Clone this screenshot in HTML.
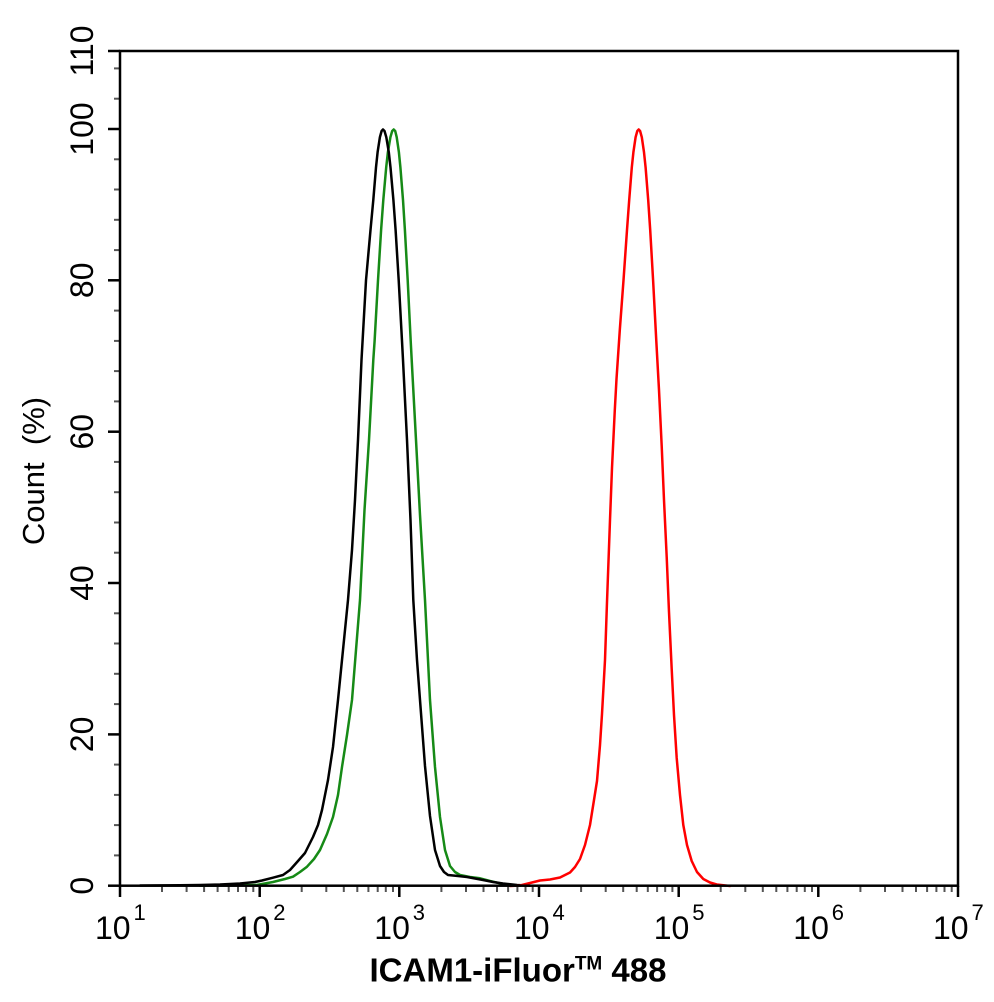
<!DOCTYPE html>
<html>
<head>
<meta charset="utf-8">
<style>
  html,body{margin:0;padding:0;background:#fff;}
  svg{display:block;}
  text{font-family:"Liberation Sans", Arial, sans-serif;fill:#000;}
</style>
</head>
<body>
<svg width="994" height="1002" viewBox="0 0 994 1002" xmlns="http://www.w3.org/2000/svg">
  <rect x="0" y="0" width="994" height="1002" fill="#fff"/>

  <!-- Y minor ticks (every 4 units) -->
  <g stroke="#555" stroke-width="2">
    <line x1="114" y1="855.4" x2="120" y2="855.4"/>
    <line x1="114" y1="825.1" x2="120" y2="825.1"/>
    <line x1="114" y1="794.9" x2="120" y2="794.9"/>
    <line x1="114" y1="764.6" x2="120" y2="764.6"/>
    <line x1="114" y1="704.1" x2="120" y2="704.1"/>
    <line x1="114" y1="673.8" x2="120" y2="673.8"/>
    <line x1="114" y1="643.5" x2="120" y2="643.5"/>
    <line x1="114" y1="613.3" x2="120" y2="613.3"/>
    <line x1="114" y1="552.7" x2="120" y2="552.7"/>
    <line x1="114" y1="522.5" x2="120" y2="522.5"/>
    <line x1="114" y1="492.2" x2="120" y2="492.2"/>
    <line x1="114" y1="461.9" x2="120" y2="461.9"/>
    <line x1="114" y1="401.4" x2="120" y2="401.4"/>
    <line x1="114" y1="371.1" x2="120" y2="371.1"/>
    <line x1="114" y1="340.9" x2="120" y2="340.9"/>
    <line x1="114" y1="310.6" x2="120" y2="310.6"/>
    <line x1="114" y1="250.1" x2="120" y2="250.1"/>
    <line x1="114" y1="219.8" x2="120" y2="219.8"/>
    <line x1="114" y1="189.5" x2="120" y2="189.5"/>
    <line x1="114" y1="159.3" x2="120" y2="159.3"/>
    <line x1="114" y1="98.7" x2="120" y2="98.7"/>
    <line x1="114" y1="68.4" x2="120" y2="68.4"/>
  </g>
  <!-- Y major ticks -->
  <g stroke="#000" stroke-width="2.5">
    <line x1="108" y1="885.7" x2="120" y2="885.7"/>
    <line x1="108" y1="734.4" x2="120" y2="734.4"/>
    <line x1="108" y1="583.0" x2="120" y2="583.0"/>
    <line x1="108" y1="431.7" x2="120" y2="431.7"/>
    <line x1="108" y1="280.3" x2="120" y2="280.3"/>
    <line x1="108" y1="129.0" x2="120" y2="129.0"/>
    <line x1="108" y1="51" x2="120" y2="51"/>
  </g>

  <!-- X minor ticks -->
  <g stroke="#555" stroke-width="2">
    <line x1="162.0" y1="886" x2="162.0" y2="892"/><line x1="186.6" y1="886" x2="186.6" y2="892"/><line x1="204.1" y1="886" x2="204.1" y2="892"/><line x1="217.6" y1="886" x2="217.6" y2="892"/><line x1="228.7" y1="886" x2="228.7" y2="892"/><line x1="238.0" y1="886" x2="238.0" y2="892"/><line x1="246.1" y1="886" x2="246.1" y2="892"/><line x1="253.3" y1="886" x2="253.3" y2="892"/>
    <line x1="301.7" y1="886" x2="301.7" y2="892"/><line x1="326.3" y1="886" x2="326.3" y2="892"/><line x1="343.8" y1="886" x2="343.8" y2="892"/><line x1="357.3" y1="886" x2="357.3" y2="892"/><line x1="368.4" y1="886" x2="368.4" y2="892"/><line x1="377.7" y1="886" x2="377.7" y2="892"/><line x1="385.8" y1="886" x2="385.8" y2="892"/><line x1="393.0" y1="886" x2="393.0" y2="892"/>
    <line x1="441.4" y1="886" x2="441.4" y2="892"/><line x1="466.0" y1="886" x2="466.0" y2="892"/><line x1="483.5" y1="886" x2="483.5" y2="892"/><line x1="497.0" y1="886" x2="497.0" y2="892"/><line x1="508.1" y1="886" x2="508.1" y2="892"/><line x1="517.4" y1="886" x2="517.4" y2="892"/><line x1="525.5" y1="886" x2="525.5" y2="892"/><line x1="532.7" y1="886" x2="532.7" y2="892"/>
    <line x1="581.1" y1="886" x2="581.1" y2="892"/><line x1="605.7" y1="886" x2="605.7" y2="892"/><line x1="623.2" y1="886" x2="623.2" y2="892"/><line x1="636.7" y1="886" x2="636.7" y2="892"/><line x1="647.8" y1="886" x2="647.8" y2="892"/><line x1="657.1" y1="886" x2="657.1" y2="892"/><line x1="665.2" y1="886" x2="665.2" y2="892"/><line x1="672.4" y1="886" x2="672.4" y2="892"/>
    <line x1="720.7" y1="886" x2="720.7" y2="892"/><line x1="745.3" y1="886" x2="745.3" y2="892"/><line x1="762.8" y1="886" x2="762.8" y2="892"/><line x1="776.3" y1="886" x2="776.3" y2="892"/><line x1="787.4" y1="886" x2="787.4" y2="892"/><line x1="796.7" y1="886" x2="796.7" y2="892"/><line x1="804.8" y1="886" x2="804.8" y2="892"/><line x1="812.0" y1="886" x2="812.0" y2="892"/>
    <line x1="860.4" y1="886" x2="860.4" y2="892"/><line x1="885.0" y1="886" x2="885.0" y2="892"/><line x1="902.5" y1="886" x2="902.5" y2="892"/><line x1="916.0" y1="886" x2="916.0" y2="892"/><line x1="927.1" y1="886" x2="927.1" y2="892"/><line x1="936.4" y1="886" x2="936.4" y2="892"/><line x1="944.5" y1="886" x2="944.5" y2="892"/><line x1="951.7" y1="886" x2="951.7" y2="892"/>
  </g>
  <!-- X major ticks -->
  <g stroke="#000" stroke-width="2.5">
    <line x1="120" y1="886" x2="120" y2="897"/>
    <line x1="259.7" y1="886" x2="259.7" y2="897"/>
    <line x1="399.3" y1="886" x2="399.3" y2="897"/>
    <line x1="539.0" y1="886" x2="539.0" y2="897"/>
    <line x1="678.7" y1="886" x2="678.7" y2="897"/>
    <line x1="818.3" y1="886" x2="818.3" y2="897"/>
    <line x1="958" y1="886" x2="958" y2="897"/>
  </g>

  <!-- Curves -->
  <g fill="none" stroke-width="2.5" stroke-linejoin="round" stroke-linecap="round">
    <polyline stroke="#168a16" points="200,885.8 240,885.3 256.7,885 273,882 285,879 293,876.7 300,872 307,866.7 314,859 320,850 327,834 333,817 338,795 342,767 347,735 352,700 356,650 360,600 364.5,510 369,440 373.3,360 374.6,341 378,280.3 381.1,230 383.3,200 386.2,167.4 387.9,152.2 390.4,137.2 392.2,131 393.7,129.5 395.2,131 396.7,137.2 398.9,152.2 400.4,167.4 403,200 404.9,230 407.7,280.3 410.7,341 411.7,360 416,440 420,515 425,600 430,700 435,767 440,817 445,850 450,866 455,872 460,875 470,877 480,878.3 490,881 500,883.3 510,885 520,885.7"/>
    <polyline stroke="#000" points="140,885.5 180,885.3 200,885 220,884.5 240,883.5 255,882 262,880.5 273,877.7 283,875 290,870 298,861 305,853 313,837 318,825 322,810 328,780 333,747 338,700 343,650 348,600 352,550 355,500 358,440 361.5,360 366,280.3 370.5,230 373.3,200 376,167.4 377.6,152.2 379.9,137.2 381.6,131 383,129.5 384.5,131 386.3,137.2 388.8,152.2 390.5,167.4 393.4,200 395.6,230 398.7,280.3 402,341 403,360 407,440 410.5,520 413.3,600 417,660 420,700 425,766 430,816 435,850 440,866 444,872 448,875 458,876 467,877 475,878.5 483,880 493,882 503,883.5 517,885 530,885.7"/>
    <polyline stroke="#f00" points="510,886 520,885.5 530,883 540,880.5 550,879.5 560,877.5 570,872.5 575,867 580,859 585,845 590,825 594,800 597,781 600,745 602,714 605,660 607,602 610,520 612,468 614.8,410 616.5,379 619.8,330 623.5,280.3 627,230 629.2,200 631.8,167.4 633.4,152.2 635.6,137.2 637.3,131 638.7,129.5 640.1,131 641.8,137.2 644,152.2 645.6,167.4 648.2,200 650.2,230 653.1,280.3 656.3,341 659,390 661.7,446 664,500 666.7,557 669,612 671.7,669 674,715 676.7,758 680,795 683.3,825 687,845 691.7,861 697,872 703.3,879 710,882.5 716.7,884.5 730,886"/>
  </g>

  <!-- Frame -->
  <rect x="120" y="51" width="838" height="834.7" fill="none" stroke="#000" stroke-width="2.5"/>

  <!-- Y tick labels -->
  <g font-size="32" text-anchor="middle">
    <text transform="translate(93,885.7) rotate(-90)">0</text>
    <text transform="translate(93,734.4) rotate(-90)">20</text>
    <text transform="translate(93,583.0) rotate(-90)">40</text>
    <text transform="translate(93,431.7) rotate(-90)">60</text>
    <text transform="translate(93,280.3) rotate(-90)">80</text>
    <text transform="translate(93,129.0) rotate(-90)">100</text>
    <text transform="translate(93,51) rotate(-90)">110</text>
  </g>
  <text font-size="31" text-anchor="middle" transform="translate(44,471) rotate(-90)">Count&#160;&#160;(%)</text>

  <!-- X tick labels -->
  <g font-size="32">
    <text x="95" y="939">10</text><text x="133.5" y="920" font-size="22">1</text>
    <text x="234.7" y="939">10</text><text x="273.2" y="920" font-size="22">2</text>
    <text x="374.3" y="939">10</text><text x="412.8" y="920" font-size="22">3</text>
    <text x="514" y="939">10</text><text x="552.5" y="920" font-size="22">4</text>
    <text x="653.7" y="939">10</text><text x="692.2" y="920" font-size="22">5</text>
    <text x="793.3" y="939">10</text><text x="831.8" y="920" font-size="22">6</text>
    <text x="933" y="939">10</text><text x="971.5" y="920" font-size="22">7</text>
  </g>

  <!-- X title -->
  <text x="518" y="981.5" font-size="33" font-weight="bold" text-anchor="middle">ICAM1-iFluor<tspan font-size="19" dy="-12">TM</tspan><tspan font-size="33" dy="12">&#160;488</tspan></text>
</svg>
</body>
</html>
